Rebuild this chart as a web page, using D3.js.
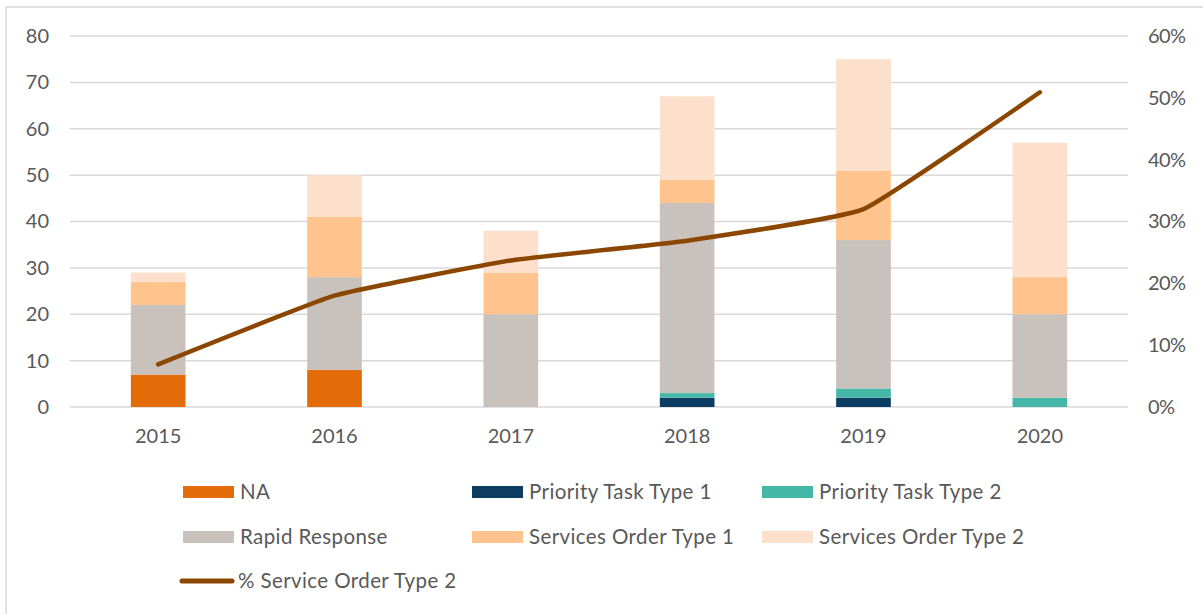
<!DOCTYPE html>
<html>
<head>
<meta charset="utf-8">
<script src="https://cdn.jsdelivr.net/npm/d3@7"></script>
<style>
  body { margin: 0; background: #fff; }
  svg { display: block; font-family: Lato, "Liberation Sans", sans-serif; }
</style>
</head>
<body>
<svg width="1203" height="614"></svg>
<script>
// chart data
let years = ["2015", "2016", "2017", "2018", "2019", "2020"]
let naVals = [7, 8, 0, 0, 0, 0]
let priority1 = [0, 0, 0, 2, 2, 0]
let priority2 = [0, 0, 0, 1, 2, 2]
let rapidResponse = [15, 20, 20, 41, 32, 18]
let servicesOrder1 = [5, 13, 9, 5, 15, 8]
let servicesOrder2 = [2, 9, 9, 18, 24, 29]
let pctServiceOrder2 = [0.069, 0.18, 0.237, 0.269, 0.32, 0.509]
let leftTicks = [0, 10, 20, 30, 40, 50, 60, 70, 80]
let rightTicks = [0, 0.1, 0.2, 0.3, 0.4, 0.5, 0.6]

let seriesList = [
    { name: "NA", values: naVals, color: "#E36C09" },
    { name: "Priority Task Type 1", values: priority1, color: "#0E3D64" },
    { name: "Priority Task Type 2", values: priority2, color: "#45B7A8" },
    { name: "Rapid Response", values: rapidResponse, color: "#C9C2BC" },
    { name: "Services Order Type 1", values: servicesOrder1, color: "#FFC48D" },
    { name: "Services Order Type 2", values: servicesOrder2, color: "#FCE0CB" }
]
let lineColor = "#8B4600"

let rows = years.map((yr, i) => {
    let r = { year: yr }
    seriesList.forEach(s => { r[s.name] = s.values[i] })
    return r
})

var svg = d3.select("svg")

// outer frame
svg.append("rect")
    .attr("x", 6).attr("y", 7)
    .attr("width", 1210).attr("height", 620)
    .attr("fill", "none").attr("stroke", "#d9d9d9").attr("stroke-width", 1.5)

var plotLeft = 70, plotRight = 1128, plotTop = 36, plotBottom = 407

var x = d3.scaleBand().domain(years).range([plotLeft, plotRight]).paddingInner(0.69).paddingOuter(0.345)
var y = d3.scaleLinear().domain([0, 80]).range([plotBottom, plotTop])
var y2 = d3.scaleLinear().domain([0, 0.6]).range([plotBottom, plotTop])

// gridlines
svg.append("g")
    .selectAll("line")
    .data(leftTicks)
    .enter().append("line")
    .attr("x1", plotLeft).attr("x2", plotRight)
    .attr("y1", d => y(d)).attr("y2", d => y(d))
    .attr("stroke", "#d9d9d9").attr("stroke-width", 1.5)

// left axis
var gl = svg.append("g")
    .attr("transform", "translate(" + (plotLeft - 4) + ",0)")
    .call(d3.axisLeft(y).tickValues(leftTicks).tickSize(0).tickPadding(17))
gl.select(".domain").remove()
gl.selectAll("text").attr("fill", "#595959").style("font-size", "20px").style("font-family", "Lato")

// right axis
var gr = svg.append("g")
    .attr("transform", "translate(" + (plotRight + 20) + ",0)")
    .call(d3.axisRight(y2).tickValues(rightTicks).tickSize(0).tickPadding(0).tickFormat(d3.format(".0%")))
gr.select(".domain").remove()
gr.selectAll("text").attr("fill", "#595959").style("font-size", "20px").style("font-family", "Lato")
    .style("letter-spacing", "-0.6px")

// bottom axis
var gb = svg.append("g")
    .attr("transform", "translate(0," + plotBottom + ")")
    .call(d3.axisBottom(x).tickSize(0).tickPadding(22))
gb.select(".domain").remove()
gb.selectAll("text").attr("fill", "#595959").style("font-size", "20px").style("font-family", "Lato")

// stacked bars
var stack = d3.stack().keys(seriesList.map(s => s.name))
var stacked = stack(rows)

svg.append("g")
    .selectAll("g")
    .data(stacked)
    .enter().append("g")
    .attr("fill", (d, i) => seriesList[i].color)
    .selectAll("rect")
    .data(d => d)
    .enter().append("rect")
    .attr("x", d => x(d.data.year))
    .attr("y", d => y(d[1]))
    .attr("width", x.bandwidth())
    .attr("height", d => y(d[0]) - y(d[1]))

// line on the secondary axis (lightly smoothed, like excel)
var line = d3.line()
    .x((d, i) => x(years[i]) + x.bandwidth() / 2)
    .y(d => y2(d))
    .curve(d3.curveCardinal.tension(0.65))

svg.append("path")
    .datum(pctServiceOrder2)
    .attr("d", line)
    .attr("fill", "none")
    .attr("stroke", lineColor)
    .attr("stroke-width", 4.5)
    .attr("stroke-linecap", "round")
    .attr("stroke-linejoin", "round")

// legend
var legendX = [183, 472, 762]
var legendY = [492, 537]
var legend = svg.append("g")
    .style("font-family", "Lato").style("font-size", "20.5px").style("letter-spacing", "0.4px")

seriesList.forEach((s, i) => {
    let lx = legendX[i % 3], ly = legendY[Math.floor(i / 3)]
    legend.append("rect")
        .attr("x", lx).attr("y", ly - 6)
        .attr("width", 51).attr("height", 12)
        .attr("fill", s.color)
    legend.append("text")
        .attr("x", lx + 57).attr("y", ly)
        .attr("dy", "0.35em")
        .attr("fill", "#595959")
        .text(s.name)
})

legend.append("line")
    .attr("x1", 182).attr("x2", 232)
    .attr("y1", 581).attr("y2", 581)
    .attr("stroke", lineColor).attr("stroke-width", 5)
    .attr("stroke-linecap", "round")
legend.append("text")
    .attr("x", 238).attr("y", 581)
    .attr("dy", "0.35em")
    .attr("fill", "#595959")
    .text("% Service Order Type 2")
</script>
</body>
</html>
